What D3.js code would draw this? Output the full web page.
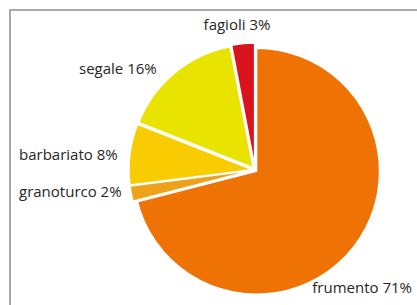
<!DOCTYPE html>
<html>
<head>
<meta charset="utf-8">
<script src="https://cdn.jsdelivr.net/npm/d3@7"></script>
<style>
  body { margin: 0; background: #fff; }
  svg { display: block; }
  .label { font-family: "Open Sans", sans-serif; font-size: 15px; fill: #262626; }
</style>
</head>
<body>
<svg id="plot" width="417" height="305"></svg>
<script>
// Data, clockwise from 12 o'clock
var crops = ['frumento', 'granoturco', 'barbariato', 'segale', 'fagioli'];
var shares = [71, 2, 8, 16, 3];
var colors = ['#ee7204', '#eea21a', '#f8cc00', '#e8e400', '#d9141c'];

var width = +d3.select('#plot').attr('width');
var height = +d3.select('#plot').attr('height');
var cx = 255, cy = 170;
var radius = 123;

var svg = d3.select('#plot');

// grey frame, only top and left edges show
svg.append('path')
  .attr('d', 'M10,' + height + 'V10H' + width)
  .attr('fill', 'none')
  .attr('stroke', '#a8a8a8')
  .attr('stroke-width', 2);

var data = crops.map(function (c, i) {
  return { crop: c, share: shares[i], color: colors[i] };
});

var pie = d3.pie()
  .sort(null)
  .value(function (d) { return d.share; });

var arc = d3.arc()
  .innerRadius(0)
  .outerRadius(radius);

// small slices are pulled out a bit, frumento a little less
var explode = { frumento: 2, granoturco: 3, barbariato: 3, segale: 3, fagioli: 4 };

var g = svg.append('g')
  .attr('transform', 'translate(' + cx + ',' + cy + ')');

g.selectAll('path.slice')
  .data(pie(data))
  .enter()
  .append('path')
  .attr('class', 'slice')
  .attr('d', arc)
  .attr('fill', function (d) { return d.data.color; })
  .attr('stroke', '#fff')
  .attr('stroke-width', 1.5)
  .attr('transform', function (d) {
    var a = (d.startAngle + d.endAngle) / 2;
    var k = explode[d.data.crop];
    return 'translate(' + (Math.sin(a) * k) + ',' + (-Math.cos(a) * k) + ')';
  });

// label placement (layout only)
var labelPos = {
  fagioli: [237, 30, 'middle'],
  segale: [79, 74, 'start'],
  barbariato: [19, 160, 'start'],
  granoturco: [19, 197, 'start'],
  frumento: [412, 293, 'end']
};

svg.selectAll('text.label')
  .data(data)
  .enter()
  .append('text')
  .attr('class', 'label')
  .attr('x', function (d) { return labelPos[d.crop][0]; })
  .attr('y', function (d) { return labelPos[d.crop][1]; })
  .attr('text-anchor', function (d) { return labelPos[d.crop][2]; })
  .text(function (d) { return d.crop + ' ' + d.share + '%'; });
</script>
</body>
</html>
